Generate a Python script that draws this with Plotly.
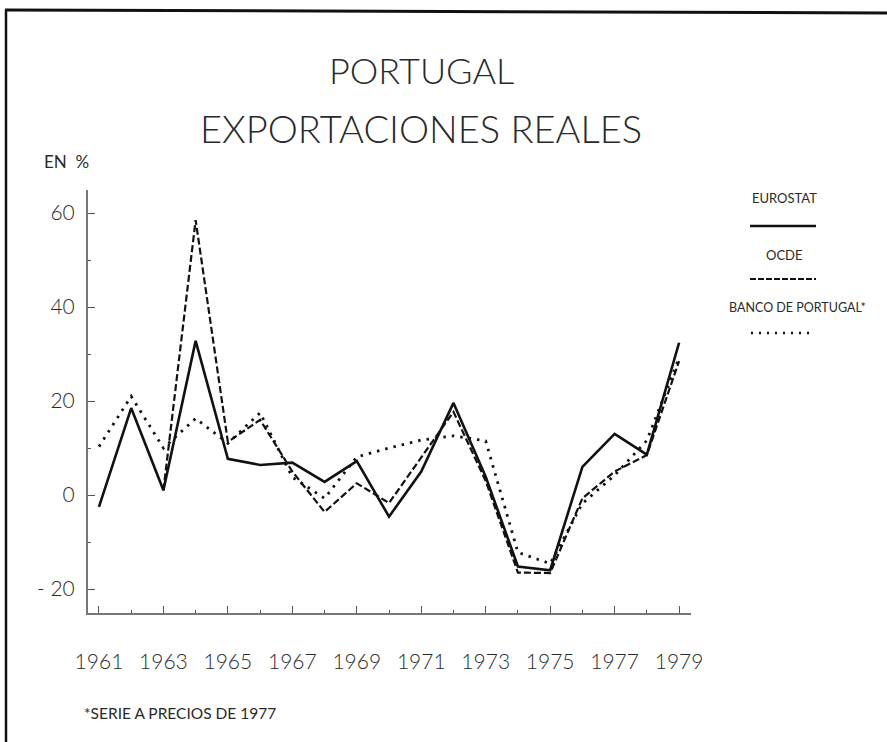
import plotly.graph_objects as go

years = list(range(1961, 1980))
eurostat = [-2.5, 18.5, 1.0, 32.8, 7.7, 6.4, 6.9, 2.8, 7.2, -4.6, 5.0, 19.6, 3.9, -15.2, -16.0, 6.0, 13.0, 8.6, 32.4]
ocde = [None, None, 1.0, 58.5, 11.3, 16.0, 5.0, -3.6, 2.5, -1.7, 8.0, 17.7, 3.0, -16.5, -16.6, -0.7, 5.0, 8.5, 28.5]
banco = [10.3, 21.0, 10.0, 16.3, 11.0, 17.5, 3.8, -0.7, 8.1, 10.0, 11.7, 12.6, 11.5, -12.2, -14.6, -1.8, 4.2, 11.6, 29.2]

x_tickvals = list(range(1961, 1980, 2))
x_ticktext = [str(v) for v in x_tickvals]
y_tickvals = [-20, 0, 20, 40, 60]
y_ticktext = ["- 20", "0", "20", "40", "60"]

W, H = 887, 742
L, R, T, B = 88, 691, 190, 613
FONT = "Lato, DejaVu Sans"
INK = "#2a2a2a"


def px(xp):
    return (xp - L) / (R - L)


def py(yp):
    return (B - yp) / (B - T)


fig = go.Figure()
fig.add_trace(go.Scatter(x=years, y=eurostat, mode="lines", name="EUROSTAT",
                         line=dict(color="#111", width=2.6)))
fig.add_trace(go.Scatter(x=years, y=ocde, mode="lines", name="OCDE",
                         line=dict(color="#111", width=2.2, dash="7px,3px")))
fig.add_trace(go.Scatter(x=years, y=banco, mode="lines", name="BANCO DE PORTUGAL*",
                         line=dict(color="#111", width=2.8, dash="2.5px,6px")))

shapes = []
# frame of the page
shapes.append(dict(type="line", xref="paper", yref="paper", x0=px(6), y0=py(10), x1=px(6), y1=py(742),
                   line=dict(color="#111", width=2.5)))
shapes.append(dict(type="line", xref="paper", yref="paper", x0=px(5), y0=py(10), x1=px(887), y1=py(13),
                   line=dict(color="#111", width=3)))
# legend samples
shapes.append(dict(type="line", xref="paper", yref="paper", x0=px(750), y0=py(226), x1=px(816), y1=py(226),
                   line=dict(color="#111", width=2.6)))
shapes.append(dict(type="line", xref="paper", yref="paper", x0=px(750), y0=py(279), x1=px(816), y1=py(279),
                   line=dict(color="#111", width=2.2, dash="6px,2px")))
shapes.append(dict(type="line", xref="paper", yref="paper", x0=px(751), y0=py(333), x1=px(814), y1=py(333),
                   line=dict(color="#111", width=2.5, dash="2px,6px")))

annotations = [
    dict(text="PORTUGAL", x=px(421), y=py(70), font=dict(size=36, weight=300)),
    dict(text="EXPORTACIONES REALES", x=px(421), y=py(128), font=dict(size=38, weight=300)),
    dict(text="EN  %", x=px(66), y=py(162), font=dict(size=17, weight=400)),
    dict(text="EUROSTAT", x=px(784), y=py(198), font=dict(size=13, weight=400)),
    dict(text="OCDE", x=px(784), y=py(255), font=dict(size=13, weight=400)),
    dict(text="BANCO DE PORTUGAL*", x=px(797), y=py(307), font=dict(size=12.5, weight=400)),
    dict(text="*SERIE A PRECIOS DE 1977", x=px(82), y=py(713), xanchor="left", font=dict(size=15.5, weight=400)),
]
for a in annotations:
    a.setdefault("xanchor", "center")
    a.update(xref="paper", yref="paper", yanchor="middle", showarrow=False)
    a["font"].update(family=FONT, color=INK)

fig.update_layout(
    width=W, height=H,
    margin=dict(l=L, r=W - R, t=T, b=H - B, pad=0),
    paper_bgcolor="white", plot_bgcolor="white",
    showlegend=False,
    shapes=shapes, annotations=annotations,
    font=dict(family=FONT, color=INK),
)
fig.update_xaxes(range=[1960.66, 1979.37], tickvals=x_tickvals, ticktext=x_ticktext,
                 ticks="inside", ticklen=7, tickwidth=1.2, tickcolor="#555",
                 minor=dict(dtick=1, tick0=1961, ticks="inside", ticklen=3, tickcolor="#555", tickwidth=1.2),
                 showline=True, linecolor="#777", linewidth=2, showgrid=False, zeroline=False,
                 tickfont=dict(size=21, family=FONT, color=INK, weight=300), ticklabelstandoff=29,
                 fixedrange=True)
fig.update_yaxes(range=[-25.1, 64.9], tickvals=y_tickvals, ticktext=y_ticktext,
                 ticks="inside", ticklen=7, tickwidth=1.2, tickcolor="#555",
                 minor=dict(dtick=10, tick0=0, ticks="inside", ticklen=3, tickcolor="#555", tickwidth=1.2),
                 showline=True, linecolor="#777", linewidth=2, showgrid=False, zeroline=False,
                 tickfont=dict(size=21, family=FONT, color=INK, weight=300), ticklabelstandoff=7,
                 fixedrange=True)

fig.write_html("out.html", config={"displayModeBar": False},
               post_script="document.body.style.margin='0px';document.body.style.overflow='hidden';")
